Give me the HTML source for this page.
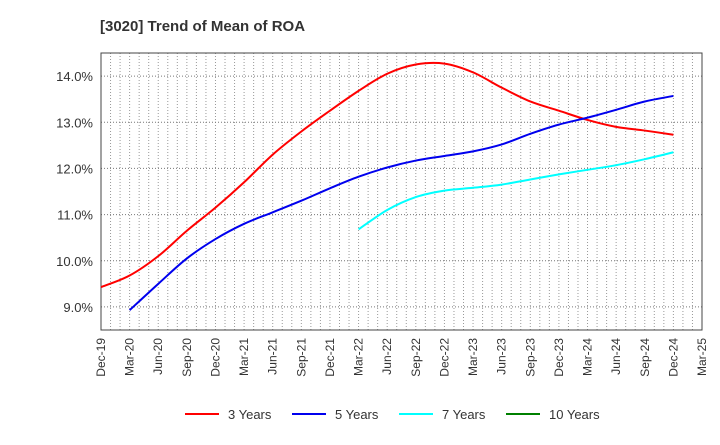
<!DOCTYPE html>
<html><head><meta charset="utf-8"><style>
body{margin:0;background:#fff;font-family:"Liberation Sans",sans-serif}
</style></head><body>
<svg id="c" width="720" height="440" xmlns="http://www.w3.org/2000/svg">
<text x="100" y="31" font-size="15" font-weight="bold" fill="#333">[3020]  Trend of Mean of ROA</text>
<g id="grid"></g><g id="axes"></g><g id="lines"></g><g id="legend"></g>
</svg>
<script>
const categories=["Dec-19","Mar-20","Jun-20","Sep-20","Dec-20","Mar-21","Jun-21","Sep-21","Dec-21","Mar-22","Jun-22","Sep-22","Dec-22","Mar-23","Jun-23","Sep-23","Dec-23","Mar-24","Jun-24","Sep-24","Dec-24","Mar-25"];
const yTicks=[9,10,11,12,13,14];
const s3=[9.43,9.68,10.1,10.65,11.15,11.7,12.3,12.8,13.25,13.68,14.05,14.25,14.27,14.08,13.75,13.45,13.25,13.05,12.9,12.82,12.73];
const s5=[null,8.93,9.5,10.05,10.47,10.8,11.05,11.3,11.57,11.82,12.02,12.17,12.27,12.37,12.52,12.75,12.95,13.1,13.27,13.45,13.57];
const s7=[null,null,null,null,null,null,null,null,null,10.68,11.1,11.38,11.52,11.58,11.65,11.76,11.87,11.97,12.07,12.2,12.35];
const s10=[];
const L=101,R=702,T=53,B=330,yMin=8.5,yMax=14.5;
const xs=i=>L+i*(R-L)/(categories.length-1);
const ys=v=>B-(v-yMin)/(yMax-yMin)*(B-T);
const NS="http://www.w3.org/2000/svg";
function mk(p,t,a){const e=document.createElementNS(NS,t);for(const k in a)e.setAttribute(k,a[k]);p.appendChild(e);return e;}
const g=document.getElementById('grid'),ax=document.getElementById('axes'),ln=document.getElementById('lines'),lg=document.getElementById('legend');
const nm=(categories.length-1)*3;
for(let m=1;m<nm;m++){const x=L+m*(R-L)/nm;const e=mk(g,'line',{x1:x,x2:x,y1:T,y2:B,stroke:'#999','stroke-dasharray':'1,2','stroke-width':1});

}
yTicks.forEach(v=>{const e=mk(g,'line',{x1:L,x2:R,y1:ys(v),y2:ys(v),stroke:'#777','stroke-dasharray':'1,2'});


const t=mk(ax,'text',{x:L-8,y:ys(v)+5,'text-anchor':'end','font-size':13,fill:'#333'});t.textContent=v.toFixed(1)+'%';

});
const fr=mk(ax,'rect',{x:L,y:T,width:R-L,height:B-T,fill:'none',stroke:'#444','stroke-width':1});


categories.forEach((c,i)=>{const x=xs(i);const t=mk(ax,'text',{x:x+4,y:B+8,'text-anchor':'end','font-size':12,fill:'#333',transform:`rotate(-90 ${x+4} ${B+8})`});t.textContent=c;

});
function path(arr){const p=[];arr.forEach((v,i)=>{if(v!=null)p.push([xs(i),ys(v)]);});if(p.length<2)return '';
let d=`M${p[0][0]},${p[0][1]}`;for(let i=0;i<p.length-1;i++){const p0=p[Math.max(0,i-1)],p1=p[i],p2=p[i+1],p3=p[Math.min(p.length-1,i+2)];
d+=` C${p1[0]+(p2[0]-p0[0])/6},${p1[1]+(p2[1]-p0[1])/6} ${p2[0]-(p3[0]-p1[0])/6},${p2[1]-(p3[1]-p1[1])/6} ${p2[0]},${p2[1]}`;}return d;}
const series=[[s3,'#ff0000','3 Years','line-3-years'],[s5,'#0000ee','5 Years','line-5-years'],[s7,'#00ffff','7 Years','line-7-years'],[s10,'#008000','10 Years','line-10-years']];
series.forEach(([a,c,n,id])=>{const d=path(a);if(d){const e=mk(ln,'path',{d:d,fill:'none',stroke:c,'stroke-width':2});

}});
const lx=[185,292,399,506];
series.forEach(([a,c,n],i)=>{const x=lx[i];const l=mk(lg,'line',{x1:x,x2:x+34,y1:414,y2:414,stroke:c,'stroke-width':2});


const t=mk(lg,'text',{x:x+43,y:419,'font-size':13,fill:'#333'});t.textContent=n;

});
</script>
</body></html>
